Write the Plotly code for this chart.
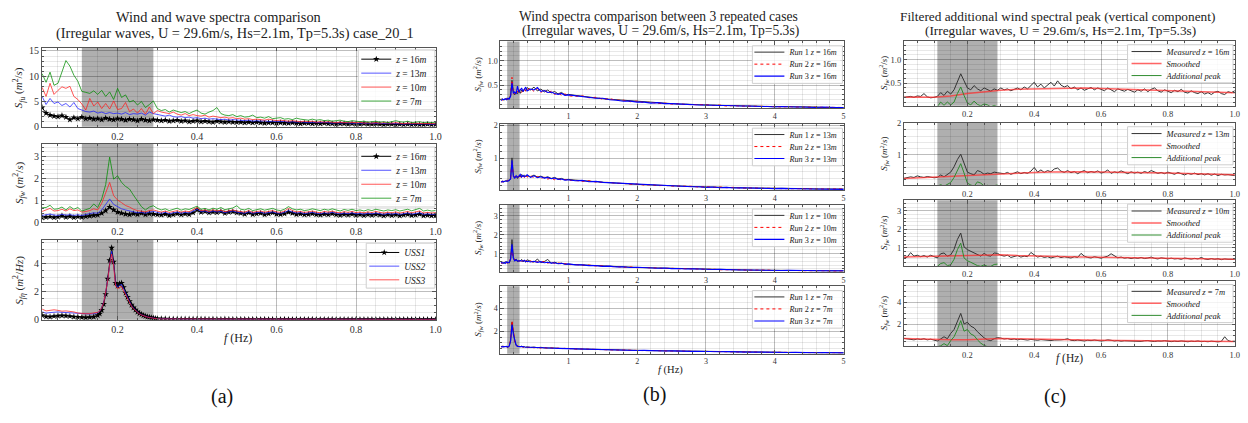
import numpy as np
import plotly.graph_objects as go

W, H = 1248, 423
SERIF = "Liberation Serif"

# ---------------- frequency grids (Hz) ----------------
F = np.round(np.arange(1, 101) * 0.01, 2)  # 0.01 .. 1.00
FW = np.round(np.concatenate([np.arange(1, 16) * 0.01,
                              0.15 + np.arange(1, 31) * 0.005,
                              0.30 + np.arange(1, 71) * 0.01]), 3)
FB = np.round(np.concatenate([np.arange(1, 21) * 0.02,
                              0.40 + np.arange(1, 13) * 0.05,
                              1.0 + np.arange(1, 41) * 0.1]), 3)
FS = np.round(np.concatenate([[0.01], np.arange(1, 21) * 0.05]), 2)
FA = np.round(0.10 + np.arange(1, 20) * 0.01, 2)
SHADE = [0.11, 0.29]

# ---------------- panel (a) top: S_fu ----------------
fu16 = [3.8, 2.7, 2.3, 2.1, 2.0, 2.2, 1.9, 1.4, 1.8, 1.6,
        1.9, 1.6, 1.7, 1.5, 1.6, 1.4, 1.7, 1.5, 1.4, 1.6,
        1.5, 1.3, 1.5, 1.4, 1.2, 1.5, 1.3, 1.2, 1.4, 1.3,
        1.2, 1.3, 1.1, 1.2, 1.3, 1.1, 1.2, 1.0, 1.1, 1.2,
        1.0, 1.1, 1.0, 0.9, 1.1, 1.0, 0.9, 1.0, 0.9, 0.9,
        0.9, 0.8, 0.9, 0.8, 0.9, 0.8, 0.7, 0.8, 0.8, 0.7,
        0.8, 0.7, 0.7, 0.8, 0.7, 0.6, 0.7, 0.7, 0.6, 0.7,
        0.6, 0.7, 0.6, 0.6, 0.5, 0.6, 0.6, 0.5, 0.6, 0.5,
        0.5, 0.6, 0.5, 0.5, 0.6, 0.5, 0.4, 0.5, 0.5, 0.4,
        0.5, 0.4, 0.5, 0.4, 0.5, 0.4, 0.4, 0.5, 0.4, 0.4]
fu13 = [6.0, 4.4, 5.6, 4.6, 4.9, 4.2, 4.6, 3.9, 4.8, 3.6,
        3.3, 3.0, 2.9, 3.1, 2.7, 2.9, 2.6, 2.8, 2.6, 2.7,
        2.5, 2.8, 2.4, 2.6, 2.5, 2.7, 2.3, 2.9, 2.6, 2.4,
        2.2, 2.1, 2.3, 2.0, 1.9, 2.0, 1.8, 1.9, 1.7, 1.8,
        1.6, 1.7, 1.5, 1.6, 1.5, 1.4, 1.5, 1.3, 1.4, 1.3,
        1.3, 1.2, 1.3, 1.1, 1.2, 1.1, 1.2, 1.0, 1.1, 1.0,
        1.0, 1.1, 0.9, 1.0, 0.9, 1.0, 0.9, 0.8, 0.9, 0.8,
        0.8, 0.9, 0.8, 0.7, 0.8, 0.7, 0.8, 0.7, 0.7, 0.7,
        0.7, 0.6, 0.7, 0.6, 0.7, 0.6, 0.6, 0.7, 0.6, 0.6,
        0.6, 0.5, 0.6, 0.5, 0.6, 0.5, 0.6, 0.5, 0.5, 0.5]
fu10 = [7.8, 6.0, 8.6, 6.4, 7.2, 7.9, 7.6, 8.0, 6.0, 5.4,
        4.5, 3.3, 5.6, 4.1, 4.9, 3.6, 4.6, 3.5, 5.1, 3.4,
        3.6, 4.8, 3.0, 3.5, 2.7, 3.6, 2.5, 3.9, 2.6, 3.2,
        2.9, 2.7, 2.6, 2.9, 2.5, 2.3, 2.6, 2.2, 2.4, 2.2,
        2.1, 2.3, 1.9, 2.1, 2.0, 1.8, 1.9, 1.7, 1.8, 1.6,
        1.7, 1.5, 1.6, 1.4, 1.5, 1.4, 1.3, 1.5, 1.3, 1.2,
        1.3, 1.2, 1.1, 1.2, 1.1, 1.0, 1.1, 1.0, 1.1, 0.9,
        1.0, 0.9, 1.0, 0.9, 0.8, 0.9, 0.8, 0.9, 0.8, 0.8,
        0.9, 0.7, 0.8, 0.7, 0.8, 0.7, 0.8, 0.7, 0.7, 0.8,
        0.7, 0.6, 0.7, 0.7, 0.6, 0.7, 0.6, 0.7, 0.6, 0.6]
fu7 = [10.5, 8.8, 10.8, 8.2, 8.6, 11.0, 13.1, 12.0, 10.2, 9.0,
       7.0, 6.8, 6.6, 7.1, 6.4, 7.2, 6.0, 6.9, 5.4, 7.6,
       5.8, 6.3, 4.9, 5.2, 4.3, 5.0, 3.8, 4.4, 5.1, 3.6,
       3.2, 3.4, 2.9, 3.3, 3.1, 2.8, 3.0, 2.6, 3.0, 3.3,
       2.7, 2.5, 2.9, 3.2, 3.8, 2.6, 2.3, 2.2, 2.4, 2.0,
       2.2, 1.9, 2.0, 2.3, 1.8, 1.9, 1.7, 2.0, 1.6, 1.7,
       1.8, 1.5, 1.6, 1.4, 1.7, 1.5, 1.4, 1.3, 1.5, 1.3,
       1.4, 1.2, 1.3, 1.1, 1.2, 1.3, 1.1, 1.0, 1.2, 1.1,
       1.0, 1.1, 0.9, 1.0, 1.1, 0.9, 1.0, 0.8, 1.0, 1.2,
       1.0, 0.9, 1.1, 0.8, 0.9, 1.0, 0.8, 0.9, 0.8, 0.9]

# ---------------- panel (a) middle: S_fw ----------------
fw16 = [0.20, 0.22, 0.24, 0.21, 0.23, 0.28, 0.22, 0.26, 0.21, 0.24,
        0.22, 0.25, 0.28, 0.30, 0.32, 0.40, 0.52, 0.68, 0.55, 0.45,
        0.40, 0.36, 0.34, 0.38, 0.35, 0.40, 0.34, 0.38, 0.36, 0.34,
        0.32, 0.36, 0.30, 0.34, 0.38, 0.33, 0.37, 0.35, 0.42, 0.55,
        0.45, 0.48, 0.42, 0.46, 0.44, 0.48, 0.40, 0.45, 0.47, 0.42,
        0.40, 0.36, 0.42, 0.35, 0.38, 0.40, 0.34, 0.38, 0.42, 0.36,
        0.35, 0.38, 0.45, 0.40, 0.35, 0.37, 0.33, 0.35, 0.38, 0.34,
        0.32, 0.36, 0.34, 0.38, 0.33, 0.31, 0.35, 0.32, 0.36, 0.31,
        0.33, 0.30, 0.34, 0.31, 0.35, 0.32, 0.29, 0.33, 0.30, 0.33,
        0.29, 0.32, 0.35, 0.30, 0.32, 0.36, 0.29, 0.31, 0.29, 0.30]
fw13 = [0.30, 0.33, 0.36, 0.32, 0.30, 0.35, 0.31, 0.34, 0.30, 0.33,
        0.30, 0.34, 0.38, 0.42, 0.40, 0.55, 0.80, 1.05, 0.80, 0.68,
        0.60, 0.55, 0.50, 0.46, 0.42, 0.44, 0.40, 0.45, 0.48, 0.44,
        0.40, 0.44, 0.38, 0.42, 0.45, 0.40, 0.44, 0.41, 0.48, 0.58,
        0.48, 0.50, 0.44, 0.50, 0.46, 0.48, 0.43, 0.47, 0.50, 0.45,
        0.43, 0.40, 0.46, 0.40, 0.43, 0.45, 0.40, 0.43, 0.46, 0.41,
        0.40, 0.44, 0.52, 0.46, 0.41, 0.43, 0.39, 0.41, 0.44, 0.40,
        0.38, 0.42, 0.40, 0.44, 0.39, 0.37, 0.41, 0.38, 0.42, 0.37,
        0.39, 0.36, 0.40, 0.37, 0.41, 0.38, 0.35, 0.39, 0.36, 0.39,
        0.35, 0.38, 0.41, 0.36, 0.38, 0.42, 0.35, 0.37, 0.35, 0.36]
fw10 = [0.48, 0.55, 0.62, 0.50, 0.52, 0.58, 0.50, 0.60, 0.52, 0.55,
        0.45, 0.48, 0.52, 0.60, 0.55, 0.85, 1.35, 1.80, 1.20, 1.00,
        0.88, 0.75, 0.68, 0.58, 0.52, 0.50, 0.46, 0.52, 0.55, 0.50,
        0.45, 0.50, 0.44, 0.48, 0.52, 0.45, 0.50, 0.47, 0.55, 0.66,
        0.52, 0.55, 0.48, 0.56, 0.50, 0.54, 0.47, 0.52, 0.55, 0.50,
        0.48, 0.45, 0.52, 0.44, 0.48, 0.50, 0.45, 0.48, 0.52, 0.46,
        0.44, 0.50, 0.62, 0.52, 0.46, 0.48, 0.44, 0.46, 0.50, 0.45,
        0.42, 0.48, 0.45, 0.50, 0.44, 0.42, 0.47, 0.44, 0.48, 0.43,
        0.45, 0.42, 0.46, 0.43, 0.48, 0.44, 0.41, 0.45, 0.42, 0.46,
        0.41, 0.44, 0.48, 0.42, 0.45, 0.50, 0.41, 0.44, 0.41, 0.43]
fw7 = [0.65, 0.66, 0.76, 0.58, 0.60, 0.68, 0.55, 0.70, 0.58, 0.66,
       0.50, 0.56, 0.62, 0.82, 0.66, 1.05, 1.70, 2.95, 1.95, 2.10,
       1.80, 1.62, 1.50, 1.22, 0.98, 0.70, 0.55, 0.68, 0.74, 0.62,
       0.55, 0.60, 0.52, 0.58, 0.63, 0.54, 0.60, 0.57, 0.65, 0.72,
       0.58, 0.62, 0.55, 0.63, 0.58, 0.66, 0.56, 0.60, 0.64, 0.74,
       0.58, 0.55, 0.62, 0.52, 0.57, 0.60, 0.54, 0.58, 0.62, 0.55,
       0.52, 0.58, 0.70, 0.60, 0.55, 0.58, 0.52, 0.55, 0.60, 0.56,
       0.52, 0.58, 0.54, 0.60, 0.55, 0.50, 0.57, 0.53, 0.58, 0.52,
       0.55, 0.50, 0.56, 0.52, 0.58, 0.53, 0.50, 0.55, 0.52, 0.56,
       0.50, 0.54, 0.58, 0.51, 0.55, 0.62, 0.50, 0.54, 0.50, 0.52]

# ---------------- panel (a) bottom: wave spectra S_feta ----------------
eta1 = [0.30, 0.22, 0.20, 0.24, 0.27, 0.29, 0.27, 0.24, 0.20, 0.18, 0.16, 0.15, 0.17, 0.20, 0.30,
        0.42, 0.68, 1.10, 1.80, 2.90, 4.20, 5.10, 4.10, 2.60, 2.40, 2.55, 2.60, 2.30, 1.90, 1.60,
        1.30, 1.05, 0.85, 0.70, 0.55, 0.45, 0.38, 0.30, 0.25, 0.20, 0.17, 0.14, 0.12, 0.09, 0.07,
        0.06, 0.06, 0.05, 0.05, 0.05, 0.04, 0.05, 0.04, 0.04, 0.04,
        0.04, 0.04, 0.03, 0.04, 0.03, 0.03, 0.04, 0.03, 0.03, 0.03,
        0.03, 0.03, 0.02, 0.03, 0.03, 0.02, 0.03, 0.02, 0.03, 0.02,
        0.02, 0.03, 0.02, 0.02, 0.03, 0.02, 0.02, 0.02, 0.03, 0.02,
        0.02, 0.02, 0.02, 0.03, 0.02, 0.02, 0.02, 0.02, 0.02, 0.02,
        0.02, 0.02, 0.02, 0.02, 0.02, 0.02, 0.02, 0.02, 0.02, 0.02,
        0.02, 0.02, 0.02, 0.02, 0.02, 0.02, 0.02, 0.02, 0.02, 0.02]
eta2 = [0.55, 0.46, 0.50, 0.54, 0.55, 0.52, 0.50, 0.50, 0.46, 0.42, 0.39, 0.38, 0.40, 0.42, 0.50,
        0.60, 0.85, 1.25, 1.90, 2.85, 4.05, 4.85, 3.95, 2.55, 2.30, 2.45, 2.50, 2.20, 1.85, 1.55,
        1.25, 1.00, 0.82, 0.66, 0.52, 0.42, 0.35, 0.28, 0.23, 0.19, 0.16, 0.13, 0.11, 0.09, 0.07,
        0.06, 0.05, 0.05, 0.05, 0.04, 0.04, 0.04, 0.04, 0.04, 0.03,
        0.03, 0.04, 0.03, 0.03, 0.03, 0.03, 0.03, 0.03, 0.03, 0.03,
        0.03, 0.02, 0.03, 0.03, 0.02, 0.03, 0.02, 0.03, 0.02, 0.02,
        0.03, 0.02, 0.02, 0.02, 0.03, 0.02, 0.02, 0.02, 0.02, 0.02,
        0.02, 0.02, 0.03, 0.02, 0.02, 0.02, 0.02, 0.02, 0.02, 0.02,
        0.02, 0.02, 0.02, 0.02, 0.02, 0.02, 0.02, 0.02, 0.02, 0.02,
        0.02, 0.02, 0.02, 0.02, 0.02, 0.02, 0.02, 0.02, 0.02, 0.02]
eta3 = [0.75, 0.62, 0.66, 0.70, 0.66, 0.60, 0.62, 0.60, 0.55, 0.47, 0.43, 0.42, 0.43, 0.45, 0.52,
        0.62, 0.85, 1.20, 1.85, 2.75, 3.90, 4.65, 3.80, 2.40, 2.20, 2.30, 2.35, 2.05, 1.75, 1.45,
        1.20, 0.95, 0.78, 0.63, 0.50, 0.40, 0.33, 0.27, 0.22, 0.18, 0.15, 0.12, 0.10, 0.08, 0.06,
        0.05, 0.05, 0.05, 0.04, 0.04, 0.04, 0.04, 0.04, 0.03, 0.04,
        0.03, 0.03, 0.03, 0.03, 0.03, 0.03, 0.03, 0.03, 0.03, 0.03,
        0.02, 0.03, 0.03, 0.02, 0.03, 0.02, 0.03, 0.02, 0.02, 0.03,
        0.02, 0.02, 0.03, 0.02, 0.02, 0.02, 0.03, 0.02, 0.02, 0.02,
        0.02, 0.02, 0.02, 0.02, 0.03, 0.02, 0.02, 0.02, 0.02, 0.02,
        0.02, 0.02, 0.02, 0.02, 0.02, 0.02, 0.02, 0.02, 0.02, 0.02,
        0.02, 0.02, 0.02, 0.02, 0.02, 0.02, 0.02, 0.02, 0.02, 0.02]

# ---------------- panel (b): three repeated runs, S_fw ----------------
b16_r1 = [0.20, 0.22, 0.19, 0.21, 0.23, 0.20, 0.24, 0.28, 0.60, 0.35, 0.30, 0.36, 0.32, 0.38, 0.33, 0.40, 0.36, 0.42, 0.38, 0.45,
          0.40, 0.46, 0.38, 0.42, 0.36, 0.40, 0.34, 0.37, 0.32, 0.35, 0.30, 0.31,
          0.29, 0.27, 0.26, 0.24, 0.22, 0.21, 0.20, 0.18, 0.17, 0.16, 0.15, 0.14, 0.13, 0.13, 0.12, 0.11, 0.11, 0.10, 0.10, 0.09,
          0.09, 0.08, 0.08, 0.08, 0.07, 0.07, 0.07, 0.06, 0.06, 0.06, 0.06, 0.05, 0.05, 0.05, 0.05, 0.05, 0.04, 0.04, 0.04, 0.04]
b16_r2 = [0.22, 0.19, 0.21, 0.20, 0.22, 0.21, 0.22, 0.30, 0.66, 0.32, 0.34, 0.30, 0.38, 0.34, 0.42, 0.35, 0.39, 0.44, 0.36, 0.40,
          0.44, 0.37, 0.43, 0.35, 0.41, 0.33, 0.38, 0.31, 0.34, 0.29, 0.32, 0.28,
          0.27, 0.28, 0.24, 0.25, 0.21, 0.22, 0.19, 0.19, 0.16, 0.17, 0.14, 0.15, 0.12, 0.13, 0.11, 0.12, 0.10, 0.10, 0.09, 0.10,
          0.08, 0.09, 0.07, 0.08, 0.07, 0.07, 0.06, 0.07, 0.06, 0.06, 0.05, 0.06, 0.05, 0.05, 0.04, 0.05, 0.04, 0.05, 0.04, 0.04]
b16_r3 = [0.18, 0.21, 0.20, 0.22, 0.20, 0.23, 0.21, 0.27, 0.55, 0.33, 0.36, 0.32, 0.48, 0.36, 0.40, 0.44, 0.37, 0.41, 0.46, 0.38,
          0.42, 0.40, 0.45, 0.37, 0.39, 0.35, 0.36, 0.33, 0.31, 0.33, 0.29, 0.30,
          0.28, 0.26, 0.25, 0.23, 0.23, 0.20, 0.19, 0.17, 0.17, 0.15, 0.15, 0.13, 0.14, 0.12, 0.12, 0.11, 0.10, 0.10, 0.09, 0.09,
          0.08, 0.08, 0.08, 0.07, 0.07, 0.07, 0.06, 0.06, 0.06, 0.05, 0.06, 0.05, 0.05, 0.05, 0.04, 0.04, 0.05, 0.04, 0.04, 0.04]
b13_r1 = [0.30, 0.32, 0.29, 0.33, 0.31, 0.35, 0.33, 0.40, 1.02, 0.50, 0.42, 0.46, 0.40, 0.48, 0.44, 0.52, 0.45, 0.50, 0.46, 0.48,
          0.45, 0.50, 0.44, 0.47, 0.42, 0.45, 0.40, 0.43, 0.38, 0.40, 0.36, 0.37,
          0.35, 0.33, 0.32, 0.30, 0.29, 0.27, 0.26, 0.24, 0.23, 0.22, 0.21, 0.20, 0.19, 0.18, 0.18, 0.17, 0.16, 0.16, 0.15, 0.14,
          0.14, 0.13, 0.13, 0.12, 0.12, 0.11, 0.11, 0.11, 0.10, 0.10, 0.10, 0.09, 0.09, 0.09, 0.09, 0.08, 0.08, 0.08, 0.08, 0.08]
b13_r2 = [0.31, 0.29, 0.32, 0.30, 0.34, 0.32, 0.36, 0.42, 0.90, 0.48, 0.44, 0.40, 0.47, 0.42, 0.50, 0.41, 0.47, 0.43, 0.52, 0.44,
          0.48, 0.42, 0.46, 0.40, 0.44, 0.38, 0.41, 0.36, 0.39, 0.35, 0.37, 0.34,
          0.34, 0.31, 0.33, 0.29, 0.28, 0.28, 0.25, 0.25, 0.22, 0.23, 0.20, 0.21, 0.18, 0.19, 0.17, 0.17, 0.15, 0.16, 0.14, 0.15,
          0.13, 0.14, 0.12, 0.13, 0.11, 0.12, 0.11, 0.10, 0.11, 0.10, 0.09, 0.10, 0.09, 0.09, 0.08, 0.09, 0.08, 0.08, 0.07, 0.08]
b13_r3 = [0.28, 0.31, 0.30, 0.32, 0.33, 0.31, 0.34, 0.38, 0.95, 0.46, 0.41, 0.48, 0.43, 0.46, 0.52, 0.44, 0.49, 0.45, 0.47, 0.51,
          0.43, 0.48, 0.42, 0.45, 0.41, 0.43, 0.39, 0.41, 0.37, 0.38, 0.35, 0.36,
          0.33, 0.34, 0.30, 0.31, 0.28, 0.27, 0.26, 0.24, 0.24, 0.21, 0.22, 0.19, 0.20, 0.17, 0.18, 0.16, 0.16, 0.15, 0.15, 0.13,
          0.14, 0.12, 0.13, 0.11, 0.12, 0.11, 0.10, 0.11, 0.10, 0.09, 0.10, 0.09, 0.08, 0.09, 0.08, 0.08, 0.08, 0.07, 0.08, 0.07]
b10_r1 = [0.50, 0.55, 0.48, 0.58, 0.52, 0.56, 0.50, 0.70, 1.75, 0.80, 0.65, 0.72, 0.58, 0.65, 0.60, 0.70, 0.58, 0.62, 0.55, 0.68,
          0.60, 0.55, 0.72, 0.52, 0.58, 0.70, 0.50, 0.55, 0.48, 0.50, 0.45, 0.44,
          0.42, 0.40, 0.38, 0.36, 0.34, 0.33, 0.31, 0.30, 0.28, 0.27, 0.26, 0.25, 0.24, 0.23, 0.22, 0.21, 0.20, 0.19, 0.18, 0.17,
          0.17, 0.16, 0.15, 0.15, 0.14, 0.14, 0.13, 0.13, 0.12, 0.12, 0.12, 0.11, 0.11, 0.11, 0.10, 0.10, 0.10, 0.10, 0.09, 0.09]
b10_r2 = [0.52, 0.48, 0.56, 0.50, 0.54, 0.49, 0.58, 0.75, 1.30, 0.72, 0.70, 0.60, 0.66, 0.58, 0.68, 0.56, 0.64, 0.58, 0.66, 0.55,
          0.62, 0.52, 0.58, 0.55, 0.60, 0.50, 0.56, 0.48, 0.52, 0.46, 0.48, 0.42,
          0.43, 0.39, 0.40, 0.35, 0.36, 0.31, 0.32, 0.28, 0.30, 0.26, 0.27, 0.24, 0.25, 0.22, 0.23, 0.20, 0.21, 0.18, 0.19, 0.17,
          0.18, 0.15, 0.16, 0.14, 0.15, 0.13, 0.14, 0.12, 0.13, 0.11, 0.12, 0.11, 0.11, 0.10, 0.11, 0.10, 0.10, 0.09, 0.10, 0.09]
b10_r3 = [0.55, 0.50, 0.53, 0.48, 0.57, 0.52, 0.55, 0.72, 1.50, 0.76, 0.62, 0.68, 0.62, 0.60, 0.64, 0.62, 0.60, 0.65, 0.58, 0.60,
          0.56, 0.60, 0.54, 0.58, 0.52, 0.55, 0.50, 0.52, 0.47, 0.49, 0.44, 0.46,
          0.41, 0.41, 0.37, 0.37, 0.33, 0.34, 0.30, 0.31, 0.27, 0.28, 0.25, 0.26, 0.23, 0.24, 0.21, 0.22, 0.19, 0.20, 0.18, 0.18,
          0.16, 0.17, 0.15, 0.16, 0.14, 0.14, 0.13, 0.14, 0.12, 0.13, 0.11, 0.12, 0.11, 0.11, 0.10, 0.10, 0.10, 0.10, 0.09, 0.10]
b7_r1 = [0.68, 0.72, 0.65, 0.70, 0.66, 0.62, 0.75, 1.20, 2.80, 1.80, 1.20, 0.80, 0.72, 0.68, 0.66, 0.72, 0.64, 0.68, 0.62, 0.66,
         0.60, 0.64, 0.58, 0.62, 0.56, 0.58, 0.54, 0.56, 0.52, 0.54, 0.50, 0.52,
         0.48, 0.46, 0.45, 0.43, 0.42, 0.40, 0.39, 0.37, 0.36, 0.35, 0.34, 0.33, 0.32, 0.31, 0.30, 0.29, 0.28, 0.27, 0.26, 0.25,
         0.25, 0.24, 0.23, 0.22, 0.22, 0.21, 0.20, 0.20, 0.19, 0.18, 0.18, 0.17, 0.17, 0.16, 0.16, 0.15, 0.15, 0.14, 0.14, 0.14]
b7_r2 = [0.70, 0.66, 0.72, 0.64, 0.68, 0.65, 0.70, 1.30, 2.95, 1.90, 1.10, 0.78, 0.70, 0.72, 0.64, 0.68, 0.66, 0.62, 0.67, 0.60,
         0.63, 0.58, 0.62, 0.55, 0.60, 0.54, 0.57, 0.52, 0.55, 0.50, 0.53, 0.49,
         0.47, 0.47, 0.44, 0.44, 0.41, 0.41, 0.38, 0.38, 0.35, 0.36, 0.33, 0.34, 0.31, 0.32, 0.29, 0.30, 0.27, 0.28, 0.25, 0.26,
         0.24, 0.25, 0.22, 0.23, 0.21, 0.22, 0.19, 0.21, 0.18, 0.19, 0.17, 0.18, 0.16, 0.17, 0.15, 0.16, 0.14, 0.15, 0.13, 0.14]
b7_r3 = [0.66, 0.70, 0.68, 0.67, 0.70, 0.64, 0.72, 1.15, 2.60, 1.75, 1.15, 0.82, 0.69, 0.70, 0.67, 0.66, 0.68, 0.64, 0.65, 0.63,
         0.62, 0.60, 0.60, 0.58, 0.58, 0.56, 0.55, 0.54, 0.53, 0.52, 0.51, 0.50,
         0.48, 0.45, 0.46, 0.42, 0.43, 0.39, 0.40, 0.36, 0.37, 0.34, 0.35, 0.32, 0.33, 0.30, 0.31, 0.28, 0.29, 0.26, 0.27, 0.24,
         0.26, 0.23, 0.24, 0.21, 0.23, 0.20, 0.21, 0.19, 0.20, 0.17, 0.19, 0.16, 0.18, 0.15, 0.17, 0.15, 0.16, 0.14, 0.15, 0.13]

# ---------------- panel (c): measured / smoothed / additional peak ----------------
c16_m = [0.20, 0.21, 0.22, 0.20, 0.23, 0.22, 0.28, 0.21, 0.19, 0.20,
         0.22, 0.30, 0.24, 0.33, 0.27, 0.36, 0.55, 0.70, 0.55, 0.40,
         0.36, 0.45, 0.38, 0.34, 0.40, 0.37, 0.33, 0.38, 0.35, 0.40,
         0.36, 0.38, 0.34, 0.37, 0.40, 0.36, 0.42, 0.38, 0.44, 0.52,
         0.42, 0.48, 0.40, 0.47, 0.52, 0.44, 0.55, 0.46, 0.42, 0.45,
         0.38, 0.42, 0.36, 0.40, 0.35, 0.38, 0.41, 0.36, 0.40, 0.37,
         0.34, 0.40, 0.36, 0.32, 0.38, 0.35, 0.33, 0.37, 0.34, 0.31,
         0.36, 0.33, 0.38, 0.32, 0.37, 0.40, 0.34, 0.31, 0.36, 0.33,
         0.30, 0.35, 0.32, 0.37, 0.31, 0.29, 0.34, 0.30, 0.28, 0.32,
         0.27, 0.30, 0.26, 0.31, 0.33, 0.28, 0.26, 0.32, 0.30, 0.34]
c16_s = [0.20, 0.21, 0.20, 0.23, 0.28, 0.32, 0.35, 0.37, 0.38, 0.39, 0.40,
         0.40, 0.39, 0.38, 0.36, 0.35, 0.34, 0.33, 0.32, 0.31, 0.30]
c16_a = [0.00, 0.10, 0.03, 0.10, 0.04, 0.10, 0.28, 0.42, 0.24, 0.08,
         0.04, 0.12, 0.05, 0.02, 0.06, 0.04, 0.00, 0.03, 0.00]
c13_m = [0.25, 0.27, 0.30, 0.28, 0.33, 0.30, 0.28, 0.31, 0.29, 0.27,
         0.28, 0.36, 0.30, 0.38, 0.45, 0.62, 0.85, 1.02, 0.75, 0.45,
         0.40, 0.36, 0.50, 0.46, 0.38, 0.42, 0.40, 0.45, 0.43, 0.42,
         0.40, 0.44, 0.38, 0.42, 0.46, 0.40, 0.44, 0.41, 0.48, 0.60,
         0.45, 0.52, 0.44, 0.50, 0.46, 0.55, 0.58, 0.48, 0.44, 0.50,
         0.43, 0.47, 0.40, 0.46, 0.50, 0.43, 0.47, 0.44, 0.49, 0.42,
         0.45, 0.52, 0.41, 0.46, 0.43, 0.49, 0.44, 0.40, 0.46, 0.42,
         0.45, 0.41, 0.47, 0.43, 0.50, 0.45, 0.41, 0.44, 0.40, 0.45,
         0.41, 0.38, 0.44, 0.40, 0.36, 0.41, 0.38, 0.42, 0.37, 0.40,
         0.36, 0.40, 0.35, 0.39, 0.34, 0.38, 0.36, 0.37, 0.35, 0.34]
c13_s = [0.25, 0.27, 0.30, 0.32, 0.33, 0.36, 0.40, 0.42, 0.44, 0.45, 0.46,
         0.46, 0.45, 0.45, 0.44, 0.43, 0.42, 0.41, 0.40, 0.38, 0.37]
c13_a = [0.00, 0.05, 0.00, 0.05, 0.12, 0.28, 0.50, 0.72, 0.42, 0.10,
         0.04, 0.00, 0.14, 0.10, 0.01, 0.03, 0.00, 0.02, 0.04]
c10_m = [0.45, 0.50, 0.74, 0.55, 0.60, 0.52, 0.58, 0.50, 0.60, 0.52,
         0.45, 0.68, 0.72, 0.55, 0.62, 0.92, 1.45, 1.80, 1.05, 0.90,
         0.82, 0.72, 0.62, 0.55, 0.70, 0.58, 0.55, 0.72, 0.70, 0.60,
         0.55, 0.60, 0.48, 0.52, 0.58, 0.50, 0.55, 0.52, 0.75, 0.62,
         0.50, 0.55, 0.48, 0.52, 0.45, 0.50, 0.55, 0.47, 0.52, 0.48,
         0.45, 0.52, 0.48, 0.70, 0.55, 0.48, 0.45, 0.52, 0.47, 0.44,
         0.50, 0.55, 0.68, 0.55, 0.46, 0.50, 0.44, 0.47, 0.42, 0.46,
         0.43, 0.48, 0.42, 0.45, 0.50, 0.43, 0.40, 0.46, 0.42, 0.40,
         0.44, 0.40, 0.42, 0.38, 0.45, 0.41, 0.39, 0.43, 0.40, 0.48,
         0.40, 0.37, 0.42, 0.38, 0.41, 0.36, 0.40, 0.38, 0.36, 0.38]
c10_s = [0.50, 0.52, 0.52, 0.54, 0.58, 0.62, 0.62, 0.58, 0.55, 0.53, 0.52,
         0.50, 0.49, 0.48, 0.46, 0.45, 0.44, 0.43, 0.42, 0.40, 0.38]
c10_a = [0.00, 0.15, 0.20, 0.04, 0.08, 0.38, 0.90, 1.25, 0.45, 0.30,
         0.22, 0.12, 0.04, 0.00, 0.08, 0.00, 0.00, 0.10, 0.12]
c7_m = [0.75, 0.72, 0.70, 0.62, 0.70, 0.65, 0.72, 0.62, 0.68, 0.60,
        0.52, 0.70, 0.90, 0.72, 1.20, 1.55, 2.20, 3.00, 2.05, 2.20,
        1.85, 1.70, 1.35, 1.05, 0.80, 0.62, 0.55, 0.72, 0.82, 0.78,
        0.70, 0.74, 0.65, 0.70, 0.62, 0.68, 0.64, 0.60, 0.66, 0.62,
        0.58, 0.64, 0.60, 0.62, 0.56, 0.60, 0.58, 0.62, 0.65, 0.72,
        0.58, 0.55, 0.60, 0.56, 0.52, 0.58, 0.55, 0.60, 0.54, 0.52,
        0.55, 0.62, 0.58, 0.52, 0.56, 0.50, 0.54, 0.52, 0.56, 0.50,
        0.52, 0.48, 0.54, 0.56, 0.50, 0.47, 0.52, 0.50, 0.55, 0.49,
        0.46, 0.50, 0.47, 0.52, 0.48, 0.45, 0.50, 0.47, 0.52, 0.46,
        0.48, 0.45, 0.50, 0.46, 0.44, 0.48, 0.90, 0.55, 0.47, 0.50]
c7_s = [0.75, 0.70, 0.65, 0.62, 0.64, 0.70, 0.75, 0.72, 0.68, 0.65, 0.62,
        0.60, 0.58, 0.56, 0.55, 0.54, 0.52, 0.51, 0.50, 0.49, 0.48]
c7_a = [0.00, 0.08, 0.28, 0.10, 0.55, 0.90, 1.55, 2.35, 1.40, 1.55,
        1.15, 1.00, 0.62, 0.32, 0.12, 0.00, 0.00, 0.00, 0.02]

# ---------------- sanity check of lengths ----------------
for arr, grid, nm in [(fu16, F, "fu16"), (fu13, F, "fu13"), (fu10, F, "fu10"), (fu7, F, "fu7"),
                      (fw16, F, "fw16"), (fw13, F, "fw13"), (fw10, F, "fw10"), (fw7, F, "fw7"),
                      (eta1, FW, "eta1"), (eta2, FW, "eta2"), (eta3, FW, "eta3"),
                      (b16_r1, FB, "b16_r1"), (b16_r2, FB, "b16_r2"), (b16_r3, FB, "b16_r3"),
                      (b13_r1, FB, "b13_r1"), (b13_r2, FB, "b13_r2"), (b13_r3, FB, "b13_r3"),
                      (b10_r1, FB, "b10_r1"), (b10_r2, FB, "b10_r2"), (b10_r3, FB, "b10_r3"),
                      (b7_r1, FB, "b7_r1"), (b7_r2, FB, "b7_r2"), (b7_r3, FB, "b7_r3"),
                      (c16_m, F, "c16_m"), (c13_m, F, "c13_m"), (c10_m, F, "c10_m"), (c7_m, F, "c7_m"),
                      (c16_s, FS, "c16_s"), (c13_s, FS, "c13_s"), (c10_s, FS, "c10_s"), (c7_s, FS, "c7_s"),
                      (c16_a, FA, "c16_a"), (c13_a, FA, "c13_a"), (c10_a, FA, "c10_a"), (c7_a, FA, "c7_a")]:
    if len(arr) != len(grid):
        raise ValueError(f"{nm}: {len(arr)} vs {len(grid)}")

# ---------------- figure ----------------
fig = go.Figure()
layout = {}
shapes = []
annotations = []
nleg = [0]


def px(x):
    return x / W


def py(y):
    return 1 - y / H


def refs(k):
    return ("x" if k == 1 else f"x{k}"), ("y" if k == 1 else f"y{k}")


def add(k, x, y, name, color, leg, width=1.0, dash="solid", star=False):
    nleg[0] += 1
    n = nleg[0]
    lid = "legend" if n == 1 else f"legend{n}"
    xa, ya = refs(k)
    tr = dict(x=x, y=y, name=name, mode="lines+markers" if star else "lines",
              line=dict(color=color, width=width, dash=dash),
              xaxis=xa, yaxis=ya, legend=lid, showlegend=True)
    if star:
        tr["marker"] = dict(symbol="star", size=5, color=color, line=dict(width=0))
    fig.add_trace(go.Scatter(**tr))
    lx, ly, fs = leg
    layout[lid] = dict(x=px(lx), y=py(ly), xanchor="left", yanchor="middle",
                       bgcolor="rgba(0,0,0,0)", borderwidth=0, itemwidth=30,
                       font=dict(family=SERIF, size=fs, color="#222"))


def frame(x0, y0, x1, y1):
    shapes.append(dict(type="rect", xref="paper", yref="paper",
                       x0=px(x0), x1=px(x1), y0=py(y1), y1=py(y0),
                       fillcolor="rgba(255,255,255,0.82)",
                       line=dict(color="#cfcfcf", width=1), layer="above"))


def text(x, y, s, size, angle=0, color="#222"):
    annotations.append(dict(x=px(x), y=py(y), xref="paper", yref="paper", text=s,
                            showarrow=False, textangle=angle, xanchor="center", yanchor="middle",
                            font=dict(family=SERIF, size=size, color=color)))


# axes: k, x pixel span, y pixel span, xrange, yrange, xdtick, xminor, ydtick, yminor, yfmt, tick font size
AX = [
    (1, (42.3, 438.0), (45.0, 125.7), [0.01, 1.001], [0, 15.6], 0.2, 0.05, 5, 1, "", 10),
    (2, (42.3, 438.0), (143.3, 223.3), [0.01, 1.001], [0, 3.55], 0.2, 0.05, 1, 0.2, "", 10),
    (3, (42.3, 438.0), (241.7, 323.3), [0.01, 1.001], [0, 5.65], 0.2, 0.05, 2, 0.5, "", 10),
    (4, (502.7, 848.0), (38.3, 106.5), [0.01, 5.005], [0.03, 1.4], 1, 0.2, 0.5, 0.1, ".1f", 8),
    (5, (502.7, 848.0), (122.7, 190.5), [0.01, 5.005], [0.05, 2.05], 1, 0.2, 1, 0.2, "", 8),
    (6, (502.7, 848.0), (205.5, 274.7), [0.01, 5.005], [0.02, 3.6], 1, 0.2, 1, 0.2, "", 8),
    (7, (502.7, 848.0), (289.0, 358.3), [0.01, 5.005], [0.05, 5.95], 1, 0.2, 2, 0.5, "", 8),
    (8, (908.3, 1241.0), (37.7, 104.3), [0.01, 1.001], [0.02, 1.4], 0.2, 0.05, 0.5, 0.1, ".1f", 8.5),
    (9, (908.3, 1241.0), (121.7, 185.7), [0.01, 1.001], [0.03, 2.02], 0.2, 0.05, 1, 0.2, "", 8.5),
    (10, (908.3, 1241.0), (201.0, 268.3), [0.01, 1.001], [0.02, 3.57], 0.2, 0.05, 1, 0.2, "", 8.5),
    (11, (908.3, 1241.0), (283.3, 350.7), [0.01, 1.001], [0.03, 5.95], 0.2, 0.05, 2, 0.5, "", 8.5),
]
TOP = {}
for k, (x0, x1), (y0, y1), xr, yr, xdt, xmn, ydt, ymn, yfmt, tfs in AX:
    TOP[k] = y0
    xa, ya = refs(k)
    common = dict(showline=True, linecolor="#555", linewidth=1, mirror="allticks",
                  ticks="inside", ticklen=3.5, tickcolor="#555", tickwidth=0.8,
                  showgrid=True, gridcolor="rgba(0,0,0,0.26)", gridwidth=0.8, zeroline=False,
                  tickfont=dict(family=SERIF, size=tfs, color="#333"), fixedrange=True)
    layout["xaxis" if k == 1 else f"xaxis{k}"] = dict(
        domain=[px(x0), px(x1)], anchor=ya, range=xr, tickmode="linear", tick0=0, dtick=xdt,
        tickformat=".1f" if xdt < 1 else "d",
        minor=dict(tick0=0, dtick=xmn, ticks="inside", ticklen=2, tickcolor="#555",
                   showgrid=True, gridcolor="rgba(0,0,0,0.09)", gridwidth=0.6), **common)
    layout["yaxis" if k == 1 else f"yaxis{k}"] = dict(
        domain=[py(y1), py(y0)], anchor=xa, range=yr, tickmode="linear", tick0=0, dtick=ydt,
        tickformat=yfmt,
        minor=dict(tick0=0, dtick=ymn, ticks="inside", ticklen=2, tickcolor="#555",
                   showgrid=True, gridcolor="rgba(0,0,0,0.09)", gridwidth=0.6), **common)
    shapes.append(dict(type="rect", xref=xa, yref=f"{ya} domain", x0=SHADE[0], x1=SHADE[1],
                       y0=0, y1=1, fillcolor="rgba(110,110,110,0.55)", line=dict(width=0),
                       layer="below"))

BLUE = "rgba(30,30,255,0.75)"
RED = "rgba(255,30,30,0.75)"
GREEN = "rgba(0,140,0,0.75)"

# ----- panel (a) -----
heights = ["16", "13", "10", "7"]
for k, series, ys in [(1, [fu16, fu13, fu10, fu7], [56.5, 70.8, 85.1, 99.4]),
                      (2, [fw16, fw13, fw10, fw7], [156.0, 170.3, 184.6, 198.9])]:
    frame(360, ys[0] - 9.5, 437, ys[-1] + 9)
    for i, (s, c) in enumerate(zip(series, ["#000000", BLUE, RED, GREEN])):
        add(k, F, s, f"<i>z</i> = {heights[i]}<i>m</i>", c, (358, ys[i], 9.5),
            width=1.0, star=(i == 0))
frame(368, 245, 437, 291)
for i, (s, c) in enumerate(zip([eta1, eta2, eta3], ["#000000", BLUE, RED])):
    add(3, FW, s, f"<i>USS{i + 1}</i>", c, (366, 254.5 + 14 * i, 9.5), width=1.0, star=(i == 0))

# ----- panel (b) -----
for k, runs, h in [(4, [b16_r1, b16_r2, b16_r3], "16"), (5, [b13_r1, b13_r2, b13_r3], "13"),
                   (6, [b10_r1, b10_r2, b10_r3], "10"), (7, [b7_r1, b7_r2, b7_r3], "7")]:
    T = TOP[k]
    frame(756, T + 4.5, 846.5, T + 43)
    styles = [("#333333", "solid", 1.0), ("red", "dot", 1.0), ("blue", "solid", 1.1)]
    for i, (s, (c, d, w)) in enumerate(zip(runs, styles)):
        add(k, FB, s, f"<i>Run</i> {i + 1} <i>z</i> = {h}<i>m</i>", c,
            (753, T + 11 + 12.3 * i, 8.2), width=w, dash=d)

# ----- panel (c) -----
for k, (m, sm, ad), h in [(8, (c16_m, c16_s, c16_a), "16"), (9, (c13_m, c13_s, c13_a), "13"),
                          (10, (c10_m, c10_s, c10_a), "10"), (11, (c7_m, c7_s, c7_a), "7")]:
    T = TOP[k]
    frame(1133, T + 4, 1239, T + 43)
    add(k, F, m, f"<i>Measured z</i> = {h}<i>m</i>", "#333333", (1132, T + 11, 8.5), width=1.0)
    add(k, FS, sm, "<i>Smoothed</i>", "rgba(255,50,50,0.75)", (1132, T + 23.3, 8.5), width=1.5)
    add(k, FA, ad, "<i>Additional peak</i>", "#2e8b2e", (1132, T + 35.6, 8.5), width=1.0)

# ----- titles and labels -----
text(220, 13.3, "Wind and wave spectra comparison", 14.4)
text(236, 30, "(Irregular waves, U = 29.6m/s, Hs=2.1m, Tp=5.3s) case_20_1", 14.4)
text(662, 12.7, "Wind spectra comparison between 3 repeated cases", 13.6)
text(664, 27.3, "(Irregular waves, U = 29.6m/s, Hs=2.1m, Tp=5.3s)", 13.6)
text(1063, 12.7, "Filtered additional wind spectral peak (vertical component)", 13.3)
text(1066, 26.7, "(Irregular waves, U = 29.6m/s, Hs=2.1m, Tp=5.3s)", 13.3)

text(19, 85.3, "<i>S<sub>fu</sub></i> (<i>m</i><sup>2</sup>/<i>s</i>)", 11, angle=-90)
text(19, 183.3, "<i>S<sub>fw</sub></i> (<i>m</i><sup>2</sup>/<i>s</i>)", 11, angle=-90)
text(19, 282.5, "<i>S<sub>fη</sub></i> (<i>m</i><sup>2</sup>/<i>Hz</i>)", 11, angle=-90)
for yc in [72.4, 156.6, 240.1, 323.7]:
    text(480, yc, "<i>S<sub>fw</sub></i> (<i>m</i><sup>2</sup>/<i>s</i>)", 9, angle=-90)
for yc in [71.0, 153.7, 234.7, 317.0]:
    text(888, yc, "<i>S<sub>fw</sub></i> (<i>m</i><sup>2</sup>/<i>s</i>)", 9, angle=-90)

text(239, 341.7, "<i>f</i> (Hz)", 12)
text(674, 375, "<i>f</i> (Hz)", 10.5)
text(1075, 363.3, "<i>f</i> (Hz)", 11.5)

text(223, 402, "(a)", 20, color="#111")
text(657.5, 400, "(b)", 20, color="#111")
text(1060, 402, "(c)", 20, color="#111")

fig.update_layout(width=W, height=H, margin=dict(l=0, r=0, t=0, b=0),
                  paper_bgcolor="white", plot_bgcolor="white", showlegend=True,
                  shapes=shapes, annotations=annotations, **layout)
fig.write_html("out.html", config={"displayModeBar": False},
               post_script="document.body.style.margin='0px';")
